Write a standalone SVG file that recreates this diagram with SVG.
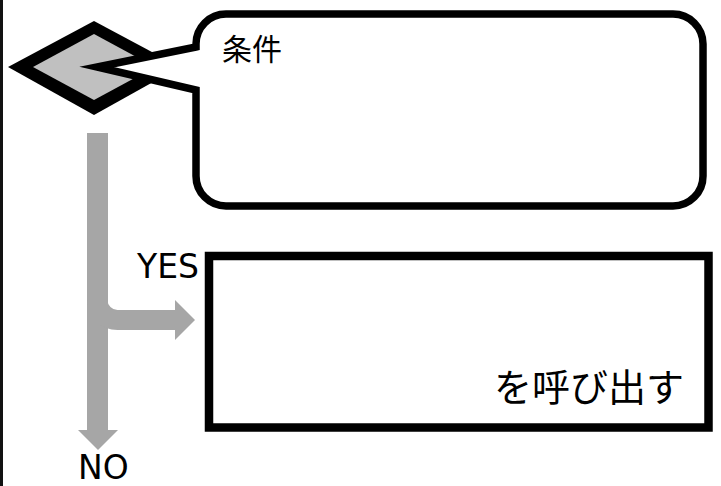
<svg xmlns="http://www.w3.org/2000/svg" width="721" height="486" viewBox="0 0 721 486">
  <style>
    .flow { fill: none; stroke: #a6a6a6; }
    .head { fill: #a6a6a6; }
    .jp { font-family: "Noto Sans CJK JP", "Noto Sans", sans-serif; fill: #000; }
    .lat { font-family: "DejaVu Sans", "Liberation Sans", sans-serif; fill: #000; }
  </style>
  <rect x="0" y="0" width="721" height="486" fill="#fff"/>
  <rect id="border" x="0" y="0" width="3" height="486" fill="#111"/>

  <g id="decision">
    <polygon points="8,67 94,21 180,67 94,115" fill="#000"/>
    <polygon points="33,67 94,34 155,67 94,100" fill="#c0c0c0"/>
  </g>

  <g id="callout">
    <path d="M196,47 L97,67 L196,90 V176 A30,30 0 0 0 226,206 H673 A30,30 0 0 0 703,176 V44 A30,30 0 0 0 673,14 H226 A30,30 0 0 0 196,44 Z" fill="#fff" stroke="#000" stroke-width="7.5" stroke-miterlimit="10"/>
    <text class="jp" x="222" y="60" font-size="30">条件</text>
  </g>

  <g id="process">
    <rect x="209" y="256" width="499.5" height="171.5" fill="#fff" stroke="#000" stroke-width="8.5"/>
    <text class="jp" x="684" y="401" font-size="38" text-anchor="end">を呼び出す</text>
  </g>

  <g id="connectors">
    <path class="flow" d="M97.5,133 V431" stroke-width="21"/>
    <polygon class="head" points="78,430 118,430 98,450"/>
    <path class="flow" d="M97.5,257 V300 A20,20 0 0 0 117.5,320 H176" stroke-width="20"/>
    <polygon class="head" points="175,300 175,340 195,320"/>
    <text class="lat" x="137" y="278" font-size="33">YES</text>
    <text class="lat" x="78" y="479" font-size="33">NO</text>
  </g>
</svg>
